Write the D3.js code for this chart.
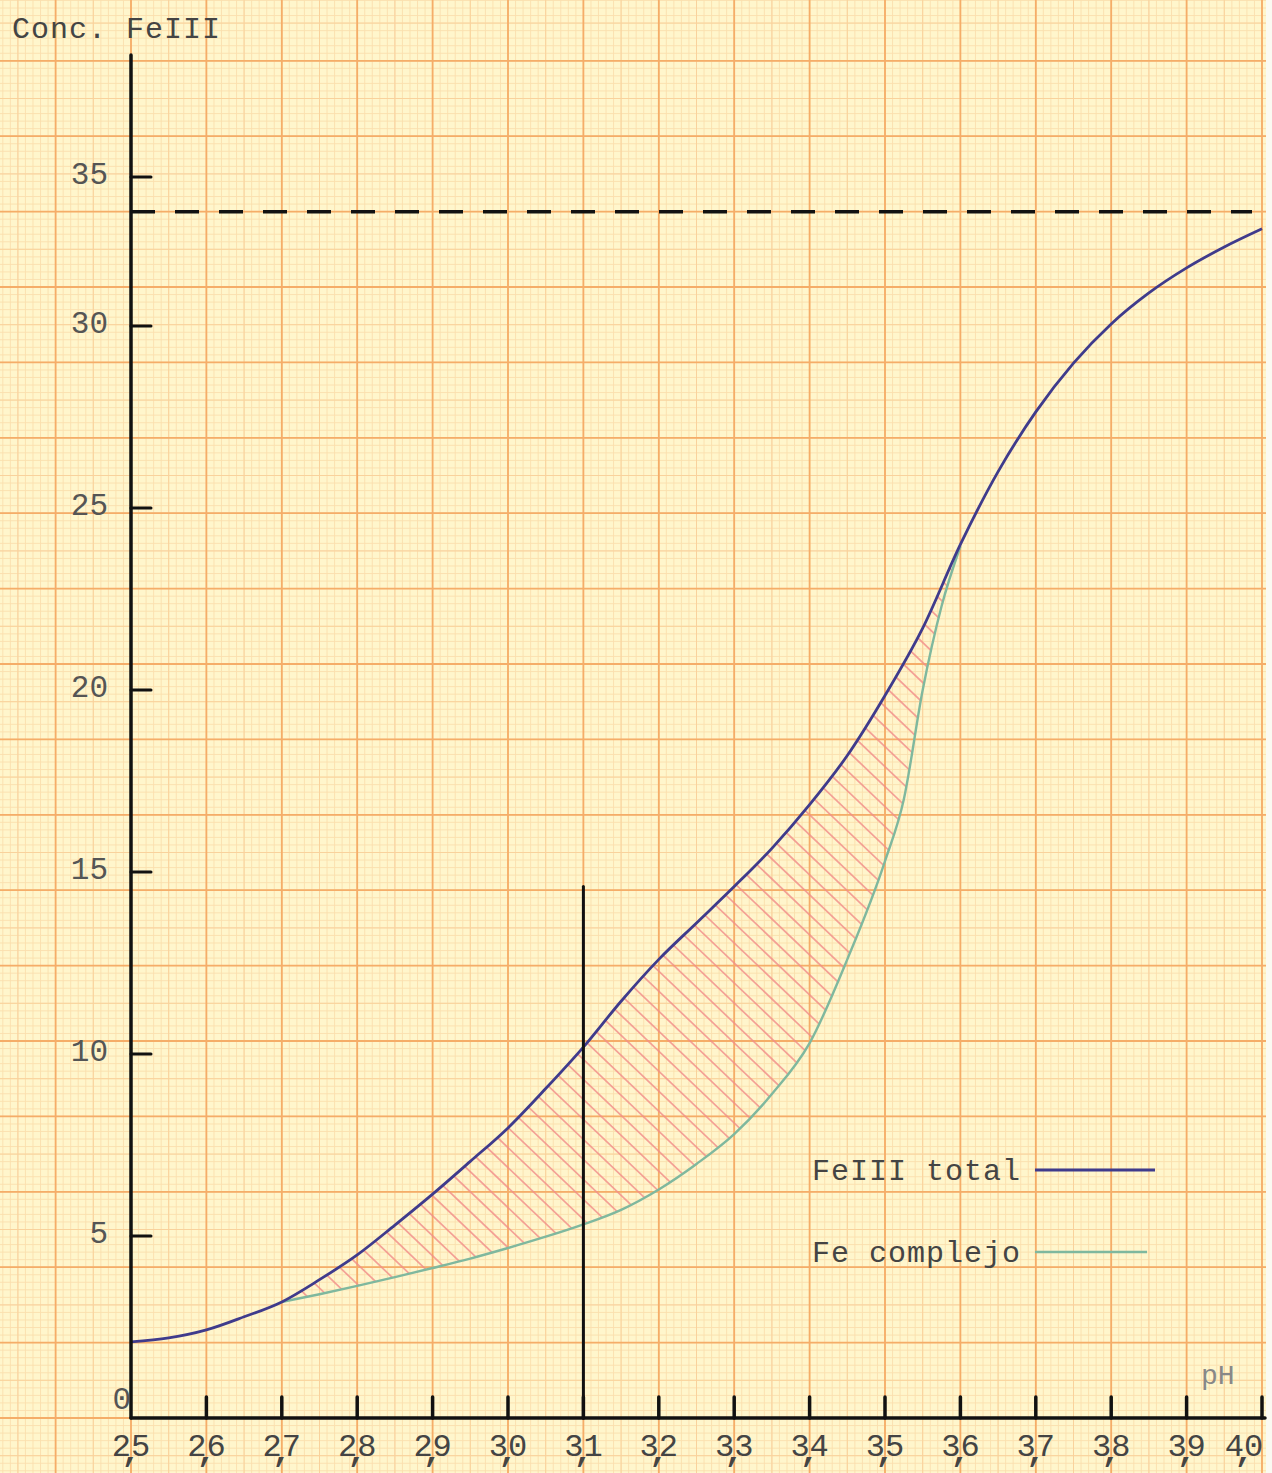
<!DOCTYPE html>
<meta charset="utf-8">
<style>
    body { margin: 0; background: #fff6cc; }
    svg { display: block; }
    text {
        font-family: "Liberation Mono", "DejaVu Sans Mono", monospace;
        fill: #444;
    }
</style>
<svg width="1272" height="1473"></svg>
<script src="https://cdn.jsdelivr.net/npm/d3@7"></script>
<script>

    // pH ticks along the bottom and concentration ticks on the left
    var xTicks = [2.5, 2.6, 2.7, 2.8, 2.9, 3.0, 3.1, 3.2, 3.3, 3.4, 3.5, 3.6, 3.7, 3.8, 3.9, 4.0];
    var yTicks = [0, 5, 10, 15, 20, 25, 30, 35];

    // FeIII total (blue curve)
    var totalPH   = [2.50, 2.55, 2.60, 2.65, 2.70, 2.75, 2.80, 2.85, 2.90, 2.95, 3.00, 3.05, 3.10, 3.15, 3.20, 3.25,
                     3.30, 3.35, 3.40, 3.45, 3.50, 3.55, 3.60, 3.65, 3.70, 3.75, 3.80, 3.85, 3.90, 3.95, 4.00];
    var totalConc = [2.09, 2.20, 2.42, 2.78, 3.19, 3.80, 4.48, 5.30, 6.15, 7.05, 7.97, 9.05, 10.19, 11.45, 12.60, 13.60,
                     14.60, 15.65, 16.85, 18.20, 19.85, 21.70, 24.00, 26.00, 27.64, 28.98, 30.07, 31.11, 31.95, 32.65, 33.26];

    // Fe complejo (green curve)
    var complexPH   = [2.70, 2.75, 2.80, 2.85, 2.90, 2.95, 3.00, 3.05, 3.10, 3.15, 3.20, 3.25, 3.30, 3.35, 3.40,
                       3.45, 3.50, 3.525, 3.55, 3.575, 3.60];
    var complexConc = [3.19, 3.40, 3.63, 3.87, 4.12, 4.38, 4.67, 4.98, 5.32, 5.72, 6.28, 6.98, 7.80, 8.90, 10.30,
                       12.60, 15.30, 17.00, 20.00, 22.30, 23.95];

    var limitConc = 33.83;   // dashed plateau line
    var markPH = 3.1, markConc = 14.6;   // vertical marker

    var svg = d3.select("svg"),
        width = +svg.attr("width"),
        height = +svg.attr("height");

    // the hand drawn axis squeezes the last step (30 -> 35)
    var x = d3.scaleLinear().domain([2.5, 4.0]).range([131, 1262]);
    var y = d3.scaleLinear().domain([0, 30, 35]).range([1418, 326, 177]);

    // ---- graph paper ----
    svg.append("rect").attr("width", width).attr("height", height).attr("fill", "#fff6cc");

    var step = (x(2.6) - x(2.5)) / 10;
    var paper = svg.append("g");
    function gridLevel(every, color, w) {
        var xs = d3.range(-40, 200).map(function(k) { return x(2.5) + k * step; })
            .filter(function(v, i) { return (i - 40) % every === 0 && v > -2 && v < width + 2; });
        var ys = d3.range(-40, 200).map(function(k) { return y(0) - k * step; })
            .filter(function(v, i) { return (i - 40) % every === 0 && v > -2 && v < height + 2; });
        paper.selectAll(null).data(xs).enter().append("line")
            .attr("x1", function(d) { return d; }).attr("x2", function(d) { return d; })
            .attr("y1", 0).attr("y2", height)
            .attr("stroke", color).attr("stroke-width", w);
        paper.selectAll(null).data(ys).enter().append("line")
            .attr("y1", function(d) { return d; }).attr("y2", function(d) { return d; })
            .attr("x1", 0).attr("x2", width)
            .attr("stroke", color).attr("stroke-width", w);
    }
    gridLevel(1, "#fbdfae", 0.9);
    gridLevel(5, "#f9d29c", 1);
    gridLevel(10, "#f5ad68", 1.8);

    // paper edge on the right
    svg.append("rect").attr("x", 1266).attr("y", 0).attr("width", 6).attr("height", height).attr("fill", "#fbfaf2");

    var total = totalPH.map(function(p, i) { return [p, totalConc[i]]; });
    var complex = complexPH.map(function(p, i) { return [p, complexConc[i]]; });

    // ---- hatched region between the curves ----
    var underTotal = d3.area().curve(d3.curveMonotoneX)
        .x(function(d) { return x(d[0]); })
        .y0(y(0)).y1(function(d) { return y(d[1]); });
    var overComplex = d3.area().curve(d3.curveMonotoneX)
        .x(function(d) { return x(d[0]); })
        .y0(0).y1(function(d) { return y(d[1]); });

    var defs = svg.append("defs");
    defs.append("clipPath").attr("id", "clipA").append("path").attr("d", underTotal(total));
    defs.append("clipPath").attr("id", "clipB").append("path").attr("d", overComplex(complex));

    var hatch = svg.append("g").attr("clip-path", "url(#clipB)")
        .append("g").attr("clip-path", "url(#clipA)");
    hatch.selectAll("line").data(d3.range(-1600, 1400, 21)).enter().append("line")
        .attr("x1", function(d) { return d; }).attr("y1", 0)
        .attr("x2", function(d) { return d + height * 1.05; }).attr("y2", height)
        .attr("stroke", "#f28e8a").attr("stroke-width", 1.7).attr("opacity", 0.8);

    // ---- dashed plateau ----
    svg.append("line")
        .attr("x1", x(2.5)).attr("x2", 1252)
        .attr("y1", y(limitConc)).attr("y2", y(limitConc))
        .attr("stroke", "#111").attr("stroke-width", 3.5)
        .attr("stroke-dasharray", "24 20");

    // ---- curves ----
    var line = d3.line().curve(d3.curveMonotoneX)
        .x(function(d) { return x(d[0]); })
        .y(function(d) { return y(d[1]); });

    svg.append("path").datum(complex).attr("d", line)
        .attr("fill", "none").attr("stroke", "#7fb89e").attr("stroke-width", 2.4);
    svg.append("path").datum(total).attr("d", line)
        .attr("fill", "none").attr("stroke", "#3f3b8c").attr("stroke-width", 2.8);

    // ---- axes ----
    var ax = svg.append("g").attr("stroke", "#111").attr("stroke-linecap", "round");
    ax.append("line").attr("x1", x(2.5)).attr("x2", x(2.5)).attr("y1", 55).attr("y2", y(0))
        .attr("stroke-width", 3.5);
    ax.append("line").attr("x1", x(2.5)).attr("x2", 1265).attr("y1", y(0)).attr("y2", y(0))
        .attr("stroke-width", 3.5);

    ax.selectAll(".yt").data(yTicks.slice(1)).enter().append("line").attr("class", "yt")
        .attr("x1", x(2.5)).attr("x2", x(2.5) + 20)
        .attr("y1", function(d) { return y(d); }).attr("y2", function(d) { return y(d); })
        .attr("stroke-width", 3);
    ax.selectAll(".xt").data(xTicks.slice(1)).enter().append("line").attr("class", "xt")
        .attr("x1", function(d) { return x(d); }).attr("x2", function(d) { return x(d); })
        .attr("y1", y(0)).attr("y2", y(0) - 21)
        .attr("stroke-width", 3.5);

    // vertical marker at pH 3,1
    ax.append("line").attr("x1", x(markPH)).attr("x2", x(markPH))
        .attr("y1", y(0)).attr("y2", y(markConc)).attr("stroke-width", 3);

    // ---- labels ----
    svg.selectAll(".ylab").data(yTicks).enter().append("text").attr("class", "ylab")
        .attr("x", function(d) { return d === 0 ? 131 : 108; })
        .attr("y", function(d) { return (d === 0 ? y(0) - 20 : y(d) - 4) + 11; })
        .attr("text-anchor", "end")
        .style("font-size", "31px").style("fill", "#555")
        .text(function(d) { return d; });

    // typewriter style "2,5": comma struck between the two digits
    var xl = svg.selectAll(".xlab").data(xTicks).enter().append("text").attr("class", "xlab")
        .attr("x", function(d) { return d === 4.0 ? x(d) - 18 : x(d); })
        .attr("y", 1456)
        .attr("text-anchor", "middle")
        .style("font-size", "32px").style("fill", "#444");
    xl.append("tspan").text(function(d) { return d3.format(".1f")(d).charAt(0); });
    xl.append("tspan").attr("dx", -9.6).attr("dy", 5).style("font-weight", "bold").text(",");
    xl.append("tspan").attr("dx", -9.6).attr("dy", -5).text(function(d) { return d3.format(".1f")(d).charAt(2); });

    svg.append("text").attr("x", 12).attr("y", 38)
        .style("font-size", "30px").style("letter-spacing", "1px").style("fill", "#444")
        .text("Conc. FeIII");
    svg.append("text").attr("x", 1201).attr("y", 1384)
        .style("font-size", "28px").style("fill", "#888")
        .text("pH");

    // ---- legend ----
    var legend = [
        { name: "FeIII total", color: "#3f3b8c", w: 3, y: 1170, len: 120 },
        { name: "Fe complejo", color: "#7fb89e", w: 2.6, y: 1252, len: 112 }
    ];
    var lg = svg.selectAll(".lg").data(legend).enter().append("g").attr("class", "lg");
    lg.append("text").attr("x", 812).attr("y", function(d) { return d.y + 10; })
        .style("font-size", "30px").style("letter-spacing", "1px").style("fill", "#444")
        .text(function(d) { return d.name; });
    lg.append("line").attr("x1", 1035).attr("x2", function(d) { return 1035 + d.len; })
        .attr("y1", function(d) { return d.y; }).attr("y2", function(d) { return d.y; })
        .attr("stroke", function(d) { return d.color; })
        .attr("stroke-width", function(d) { return d.w; });

</script>
